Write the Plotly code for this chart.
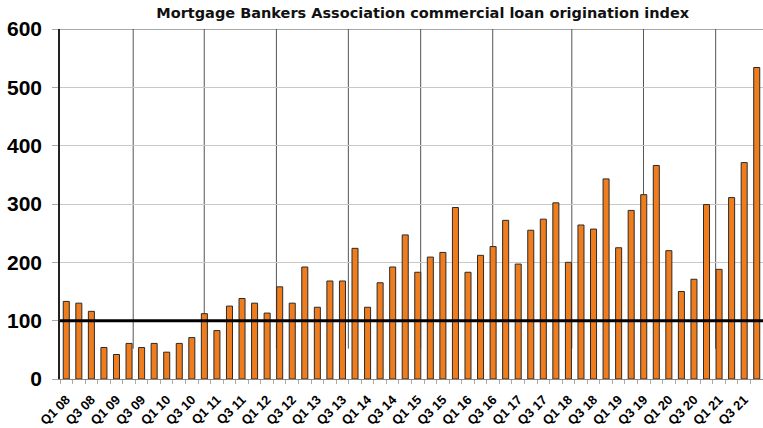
import plotly.graph_objects as go

years = ["08", "09", "10", "11", "12", "13", "14", "15", "16", "17", "18", "19", "20", "21"]
quarters = ["Q1", "Q2", "Q3", "Q4"]
categories = [f"{q} {y}" for y in years for q in quarters]

values = [133, 130, 116, 54, 42, 61, 54, 61, 46, 61, 71, 112, 83, 125, 138, 130,
          113, 158, 130, 192, 123, 168, 168, 224, 123, 165, 192, 247, 183, 209, 217, 294,
          183, 212, 227, 272, 197, 255, 274, 302, 200, 264, 257, 343, 225, 289, 316, 366,
          220, 150, 171, 299, 188, 311, 371, 534]

# decorative vertical rules (in category-index units) seen in the original
vrule_positions = [5.33, 10.99, 16.74, 22.47, 28.23, 33.97, 40.27, 45.98, 51.73]
vrule_bottom = 52
vrule_top = 607
baseline_value = 100

tick_idx = list(range(0, len(categories), 2))
tick_text = [categories[i] for i in tick_idx]
x_idx = list(range(len(categories)))

fig = go.Figure()
fig.add_trace(go.Bar(
    x=x_idx, y=values, width=0.48,
    marker=dict(color="#EF7D1E", line=dict(color="#2b2b2b", width=1)),
    hovertext=categories, cliponaxis=False,
))

shapes = []
for p in vrule_positions:
    shapes.append(dict(type="line", xref="x", yref="y", x0=p, x1=p, y0=vrule_bottom, y1=vrule_top,
                       line=dict(color="#555555", width=1), layer="below"))
shapes.append(dict(type="line", xref="paper", yref="y", x0=0, x1=1, y0=600, y1=600,
                   line=dict(color="#555555", width=1.2), layer="below"))
shapes.append(dict(type="line", xref="paper", yref="y", x0=0, x1=1, y0=baseline_value, y1=baseline_value,
                   line=dict(color="#000000", width=3), layer="above"))

fig.update_layout(
    width=763, height=428,
    margin=dict(l=60, r=0, t=29, b=49, pad=0, autoexpand=False),
    paper_bgcolor="white", plot_bgcolor="white",
    showlegend=False,
    shapes=shapes,
    title=dict(text="Mortgage Bankers Association commercial loan origination index",
               x=0.554, xanchor="center", y=0.97, yanchor="middle",
               font=dict(family="DejaVu Sans", size=14.5, color="#111111", weight="bold")),
    font=dict(family="Liberation Sans", color="#000000"),
)
fig.update_xaxes(
    range=[-0.5, len(categories) - 0.5], automargin=False,
    tickmode="array", tickvals=tick_idx, ticktext=tick_text,
    tickangle=-45, tickfont=dict(family="Liberation Sans", size=13, color="#000000", weight="bold"),
    ticks="", showgrid=False, zeroline=False, ticklabelstandoff=7,
    showline=True, linecolor="#888888", linewidth=1,
    minor=dict(tick0=-0.5, dtick=1, ticks="outside", ticklen=4, tickcolor="#aaaaaa", showgrid=False),
)
fig.update_yaxes(
    range=[0, 600], tickvals=[0, 100, 200, 300, 400, 500, 600], automargin=False,
    tickfont=dict(family="Liberation Sans", size=21, color="#000000", weight="bold"),
    ticks="outside", ticklen=6, tickcolor="#aaaaaa",
    ticklabelstandoff=6,
    showgrid=True, gridcolor="#c8c8c8", gridwidth=1,
    zeroline=False, showline=True, linecolor="#222222", linewidth=1.5,
)

fig.write_html(
    "out.html",
    config={"displayModeBar": False},
    post_script="document.body.style.margin='0';document.body.style.overflow='hidden';",
)
